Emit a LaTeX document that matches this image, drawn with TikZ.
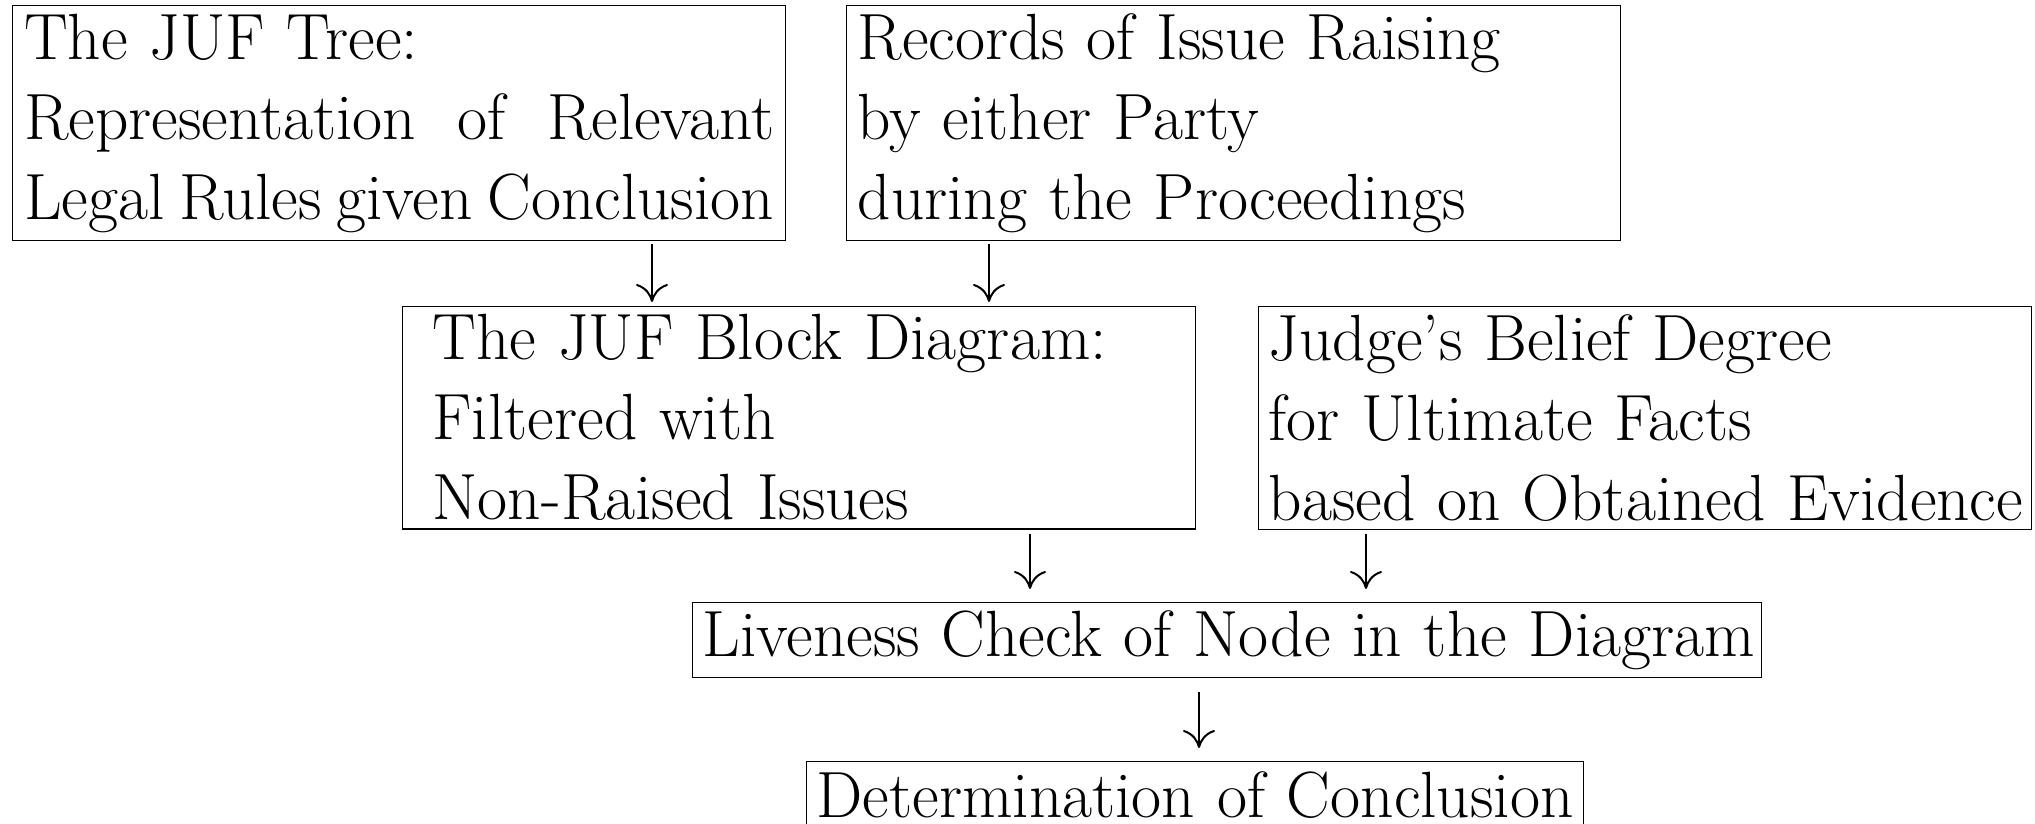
\documentclass[tikz,border=0pt]{standalone}
\usetikzlibrary{arrows.meta}
\newlength\upx
\setlength\upx{0.4pt}
% a line of words spread to a given width
\newcommand\spreadline[2]{\leavevmode\hbox to #1{\def\gap{\hskip 0pt plus 1fil minus 1fil}#2}}
\tikzset{
  box/.style={draw, line width=0.5pt, anchor=north west, align=left,
    inner ysep=8\upx, font=\fontsize{26.15pt}{32pt}\selectfont},
  flow/.style={line width=0.8pt,
    -{Computer Modern Rightarrow[length=7.2pt,width=12.8pt]}},
}
\begin{document}
\begin{tikzpicture}[x=\upx, y=-\upx]
\useasboundingbox (0,0) rectangle (2035,824);
\clip (0,0) rectangle (2035,824);

% upper row
\node[box, inner xsep=11.5\upx, text width=750\upx, minimum height=235\upx] (tree) at (12,5)
  {\mbox{The JUF Tree:}\\
   \spreadline{750\upx}{Representation\gap of\gap Relevant}\\
   \spreadline{750\upx}{Legal\gap Rules\gap given\gap Conclusion}};
\node[box, inner xsep=11\upx, text width=752\upx, minimum height=235\upx] (records) at (846,5)
  {\mbox{Records of Issue Raising}\\ \mbox{by either Party}\\ \mbox{during the Proceedings}};

% middle row
\node[box, inner xsep=30\upx, text width=733\upx, minimum height=222\upx] (block) at (402,306)
  {\mbox{The JUF Block Diagram:}\\ \mbox{Filtered with}\\ \mbox{Non-Raised Issues}};
\node[box, inner xsep=10\upx, text width=753\upx, minimum height=222\upx] (belief) at (1258,306)
  {\mbox{Judge's Belief Degree}\\ \mbox{for Ultimate Facts}\\ \mbox{based on Obtained Evidence}};

% lower rows
\node[box, align=center, inner xsep=10\upx, text width=1049\upx, minimum height=75\upx] (live) at (692,602)
  {\mbox{Liveness Check of Node in the Diagram}};
\node[box, align=center, inner xsep=10\upx, text width=757\upx, minimum height=66\upx] (concl) at (806,761)
  {\mbox{Determination of Conclusion}};

% x positions of the connectors
\coordinate (xa) at (652,0);
\coordinate (xb) at (989,0);
\coordinate (xc) at (1030,0);
\coordinate (xd) at (1366,0);
\coordinate (xe) at (1199,0);

\draw[flow, shorten <=3\upx, shorten >=4\upx] (tree.south -| xa) -- (block.north -| xa);
\draw[flow, shorten <=3\upx, shorten >=4\upx] (records.south -| xb) -- (block.north -| xb);
\draw[flow, shorten <=4\upx, shorten >=13\upx] (block.south -| xc) -- (live.north -| xc);
\draw[flow, shorten <=4\upx, shorten >=13\upx] (belief.south -| xd) -- (live.north -| xd);
\draw[flow, shorten <=14\upx, shorten >=13\upx] (live.south -| xe) -- (concl.north -| xe);
\end{tikzpicture}
\end{document}
